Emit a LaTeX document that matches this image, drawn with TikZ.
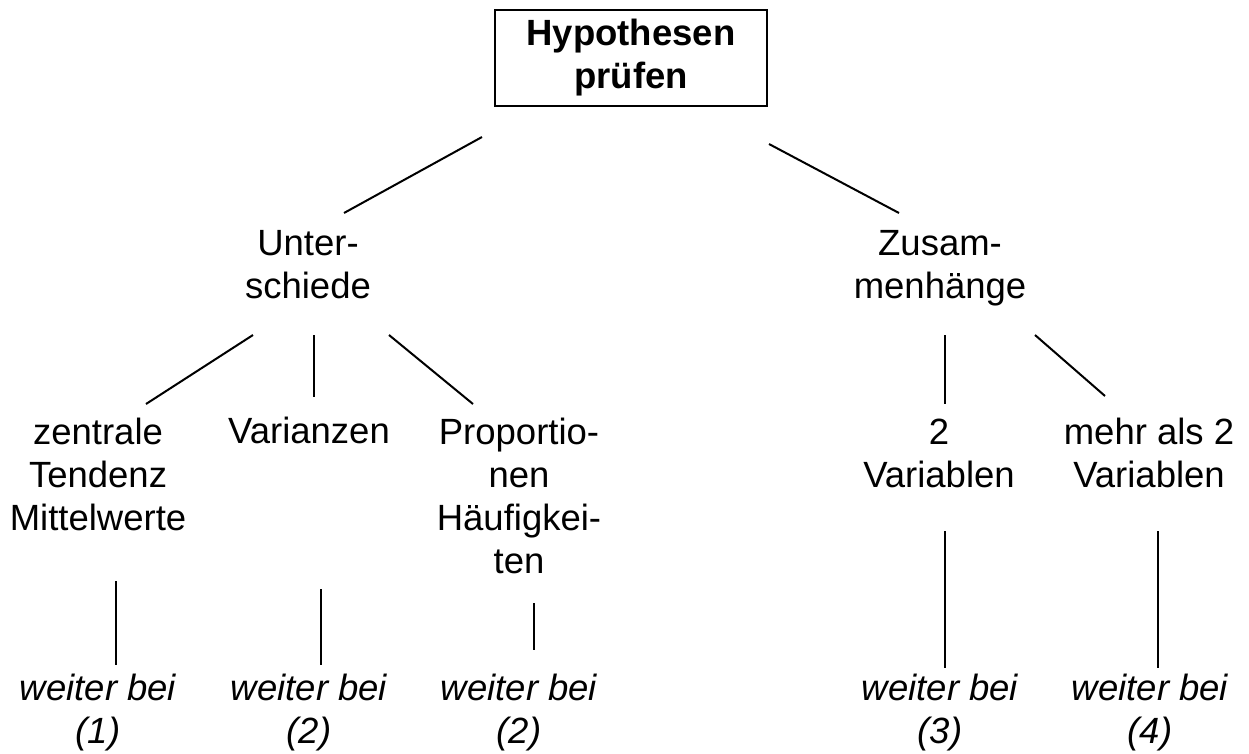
\documentclass[tikz,border=0pt]{standalone}
\usepackage{fontspec}
\setmainfont{Liberation Sans}

\begin{document}
\begin{tikzpicture}[x=1pt, y=-1pt, line width=2pt,
  topbox/.style={draw, line width=2pt, minimum width=272pt, minimum height=96pt, align=center,
    font=\fontsize{36.5}{43}\selectfont\bfseries},
  txt/.style={anchor=base, align=center, inner sep=0pt, font=\fontsize{36.5}{43}\selectfont},
  weiter/.style={txt, font=\fontsize{36.5}{43}\selectfont\itshape}]
  \useasboundingbox (0,0) rectangle (1249,753);

  % nodes sit on the baseline of their last line
  \node[topbox] (root) at (631,58) {Hypothesen\\prüfen};

  \node[txt] (unter) at (308,298) {Unter-\\schiede};
  \node[txt] (zusam) at (940,298) {Zusam-\\menhänge};

  \node[txt] (zentral) at (98,530) {zentrale\\Tendenz\\Mittelwerte};
  \node[txt] (varianz) at (309,443) {Varianzen};
  \node[txt] (propor) at (519,573) {Proportio-\\nen\\Häufigkei-\\ten};
  \node[txt] (zweivar) at (939,487) {2\\Variablen};
  \node[txt] (mehrvar) at (1149,487) {mehr als 2\\Variablen};

  \node[weiter] (w1) at (98,743) {weiter bei\\(1)};
  \node[weiter] (w2) at (309,743) {weiter bei\\(2)};
  \node[weiter] (w3) at (519,743) {weiter bei\\(2)};
  \node[weiter] (w4) at (940,743) {weiter bei\\(3)};
  \node[weiter] (w5) at (1150,743) {weiter bei\\(4)};

  % line ends (the lines stop short of the texts)
  \coordinate (root-l) at (482,137);  \coordinate (unter-t) at (344,213);
  \coordinate (root-r) at (769,144);  \coordinate (zusam-t) at (899,213);
  \coordinate (unter-l) at (253,335); \coordinate (zentral-t) at (146,404);
  \coordinate (unter-m) at (314,335); \coordinate (varianz-t) at (314,397);
  \coordinate (unter-r) at (389,335); \coordinate (propor-t) at (473,404);
  \coordinate (zusam-l) at (945,335); \coordinate (zweivar-t) at (945,404);
  \coordinate (zusam-r) at (1035,335); \coordinate (mehrvar-t) at (1105,396);
  \coordinate (zentral-b) at (116,581); \coordinate (w1-t) at (116,665);
  \coordinate (varianz-b) at (321,589); \coordinate (w2-t) at (321,665);
  \coordinate (propor-b) at (534,603);  \coordinate (w3-t) at (534,650);
  \coordinate (zweivar-b) at (945,531); \coordinate (w4-t) at (945,668);
  \coordinate (mehrvar-b) at (1158,531); \coordinate (w5-t) at (1158,668);

  \draw (root-l) -- (unter-t);
  \draw (root-r) -- (zusam-t);
  \draw (unter-l) -- (zentral-t);
  \draw (unter-m) -- (varianz-t);
  \draw (unter-r) -- (propor-t);
  \draw (zusam-l) -- (zweivar-t);
  \draw (zusam-r) -- (mehrvar-t);
  \draw (zentral-b) -- (w1-t);
  \draw (varianz-b) -- (w2-t);
  \draw (propor-b) -- (w3-t);
  \draw (zweivar-b) -- (w4-t);
  \draw (mehrvar-b) -- (w5-t);
\end{tikzpicture}
\end{document}
